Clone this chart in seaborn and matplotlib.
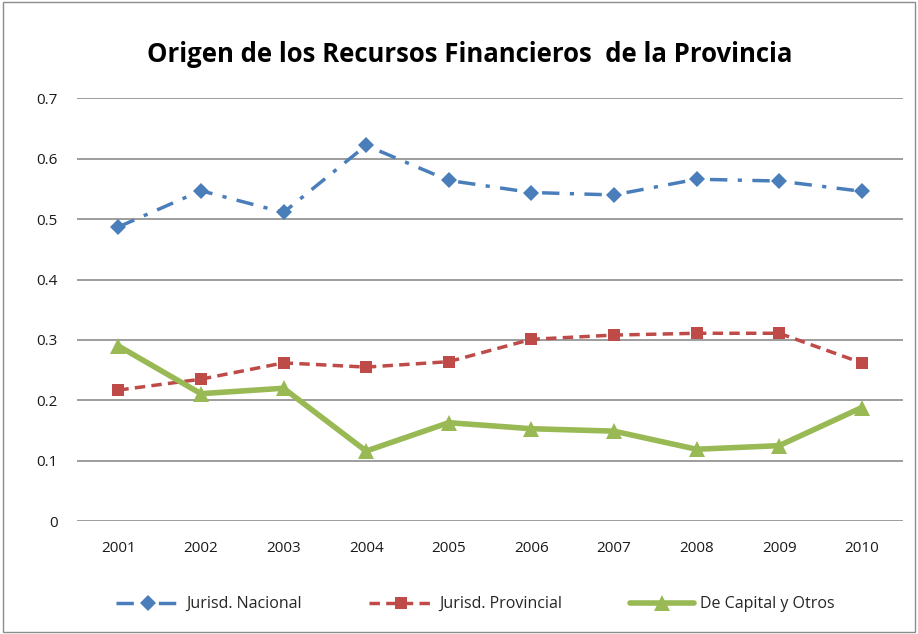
import pandas as pd
import numpy as np
import matplotlib.pyplot as plt
import seaborn as sns
from matplotlib.patches import Rectangle

# data
years = [2001, 2002, 2003, 2004, 2005, 2006, 2007, 2008, 2009, 2010]
nacional = [0.487, 0.547, 0.511, 0.622, 0.564, 0.544, 0.540, 0.566, 0.563, 0.546]
provincial = [0.217, 0.235, 0.262, 0.255, 0.264, 0.301, 0.308, 0.311, 0.311, 0.262]
capital = [0.290, 0.211, 0.220, 0.116, 0.163, 0.153, 0.149, 0.119, 0.125, 0.188]
yticks = [0, 0.1, 0.2, 0.3, 0.4, 0.5, 0.6, 0.7]

df = pd.DataFrame({"year": [str(y) for y in years],
                   "Jurisd. Nacional": nacional,
                   "Jurisd. Provincial": provincial,
                   "De Capital y Otros": capital})

sns.set_theme(style="white")
plt.rcParams["font.family"] = ["Open Sans", "DejaVu Sans"]

fig = plt.figure(figsize=(9.18, 6.34), dpi=100)
ax = fig.add_axes([0.0839, 0.178, 0.8998, 0.667])

# series styles
sns.lineplot(data=df, x="year", y="Jurisd. Nacional", ax=ax, color="#4A7EBB",
             linewidth=2.5, linestyle=(0, (5, 3, 1.2, 3)), marker="D",
             markersize=8, markeredgewidth=0, label="Jurisd. Nacional")
sns.lineplot(data=df, x="year", y="Jurisd. Provincial", ax=ax, color="#BE4B48",
             linewidth=2.5, linestyle=(0, (3, 1.8)), marker="s",
             markersize=9, markeredgewidth=0, label="Jurisd. Provincial")
sns.lineplot(data=df, x="year", y="De Capital y Otros", ax=ax, color="#98B954",
             linewidth=4, marker="^", markersize=12, markeredgewidth=0,
             label="De Capital y Otros")

ax.set_xlim(-0.5, len(years) - 0.5)
ax.set_ylim(0, 0.7)
ax.set_yticks(yticks)
ax.set_yticklabels([f"{v:g}" for v in yticks])
ax.grid(axis="y", color="#8c8c8c", linewidth=1.2)
ax.set_axisbelow(True)
for s in ax.spines.values():
    s.set_visible(False)
ax.set_xlabel("")
ax.set_ylabel("")
ax.tick_params(axis="both", length=0, labelsize=11, colors="#1a1a1a")
ax.tick_params(axis="x", pad=14)
ax.tick_params(axis="y", pad=14)

ax.get_legend().remove()
h, l = ax.get_legend_handles_labels()
fig.legend(h, l, loc="center", bbox_to_anchor=(0.518, 0.047), ncol=3,
           frameon=False, fontsize=11.5, handlelength=4, columnspacing=4.2,
           handletextpad=0.4)

fig.text(0.512, 0.914, "Origen de los Recursos Financieros  de la Provincia",
         ha="center", va="center", fontsize=18.5, fontweight="bold", color="black")

fig.patches.append(Rectangle((0.003, 0.003), 0.994, 0.994, transform=fig.transFigure,
                             fill=False, edgecolor="#8c8c8c", linewidth=1))

fig.savefig("out.png", dpi=100)
